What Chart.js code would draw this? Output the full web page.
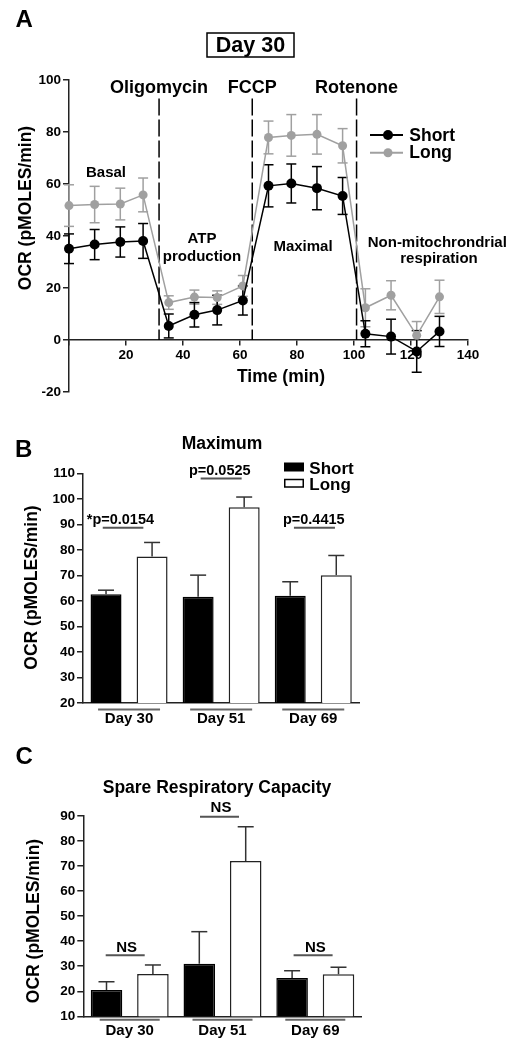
<!DOCTYPE html>
<html><head><meta charset="utf-8">
<script src="https://cdn.jsdelivr.net/npm/chart.js@4/dist/chart.umd.min.js"></script>
<style>
html,body{margin:0;padding:0;background:#fff;}
#wrap{position:relative;width:517px;height:1048px;overflow:hidden;background:#fff;}
canvas{position:absolute;left:0;}
</style></head><body>
<div id="wrap">
<canvas id="cA" width="517" height="410" style="top:0px"></canvas>
<canvas id="cB" width="517" height="330" style="top:410px"></canvas>
<canvas id="cC" width="517" height="308" style="top:740px"></canvas>
</div>
<script>
// ---------- Panel A data (Seahorse trace, Day 30) ----------
const timeMin  = [0, 9, 18, 26, 35, 44, 52, 61, 70, 78, 87, 96, 104, 113, 122, 130];
const shortOCR = [35.1, 36.7, 37.7, 38.1, 5.4, 9.7, 11.5, 15.2, 59.3, 60.2, 58.4, 55.4, 2.4, 1.3, -4.4, 3.3];
const shortSEM = [5.7, 5.8, 5.8, 6.7, 4.6, 4.7, 5.7, 5.6, 8.1, 7.5, 8.3, 7.1, 5.0, 6.7, 8.0, 5.8];
const longOCR  = [51.7, 52.1, 52.3, 55.8, 14.4, 16.5, 16.3, 20.8, 77.9, 78.7, 79.1, 74.7, 12.4, 17.2, 1.8, 16.6];
const longSEM  = [8.0, 7.0, 6.1, 6.5, 2.6, 2.7, 2.6, 4.0, 6.3, 8.0, 7.6, 6.6, 7.3, 5.6, 5.3, 6.4];
const injectionTimes = [31.6, 64.3, 100.9];
const injectionNames = ['Oligomycin', 'FCCP', 'Rotenone'];
const xTicksA = [0, 20, 40, 60, 80, 100, 120, 140];

// ---------- Panel B data (Maximum) ----------
const dayLabels   = ['Day 30', 'Day 51', 'Day 69'];
const maxShort    = [62.6, 61.6, 62.0];
const maxShortSEM = [1.6, 8.5, 5.5];
const maxLong     = [77.4, 96.7, 70.1];
const maxLongSEM  = [5.5, 4.0, 7.7];
const maxPValues  = ['*p=0.0154', 'p=0.0525', 'p=0.4415'];

// ---------- Panel C data (Spare Respiratory Capacity) ----------
const spareShort    = [20.5, 31.0, 25.3];
const spareShortSEM = [3.3, 12.8, 2.9];
const spareLong     = [26.9, 72.0, 26.8];
const spareLongSEM  = [3.6, 13.7, 2.8];
const spareSig      = ['NS', 'NS', 'NS'];

// ---------- helpers ----------
const FONT = '"Liberation Sans", Arial, Helvetica, sans-serif';
const GRAY = '#a0a0a0';
function txt(ctx, s, x, y, size, align, rot) {
  ctx.save();
  ctx.font = 'bold ' + size + 'px ' + FONT;
  ctx.fillStyle = '#000';
  ctx.textAlign = align || 'center';
  ctx.textBaseline = 'alphabetic';
  if (rot) { ctx.translate(x, y); ctx.rotate(rot); ctx.fillText(s, 0, 0); }
  else ctx.fillText(s, x, y);
  ctx.restore();
}
function seg(ctx, x1, y1, x2, y2, color, w, dash) {
  ctx.save();
  ctx.strokeStyle = color; ctx.lineWidth = w;
  ctx.setLineDash(dash || []);
  ctx.beginPath(); ctx.moveTo(x1, y1); ctx.lineTo(x2, y2); ctx.stroke();
  ctx.restore();
}
const tickFont = {family: FONT, size: 13.5, weight: 'bold'};
function yAxisOpts(min, max, step, width) {
  return {
    min: min, max: max,
    ticks: {stepSize: step, font: tickFont, color: '#000', padding: 2},
    grid: {display: true, drawOnChartArea: false, drawTicks: true, tickLength: 6, color: '#222', lineWidth: 1.5},
    border: {color: '#222', width: 1.5},
    afterFit: function (s) { s.width = width; }
  };
}

// ---------- Panel A ----------
const annotA = {
  id: 'annotA',
  beforeDatasetsDraw(chart) {
    const ctx = chart.ctx, xs = chart.scales.x, ys = chart.scales.y;
    injectionTimes.forEach(t => {
      const px = xs.getPixelForValue(t);
      seg(ctx, px, ys.getPixelForValue(92.9), px, ys.getPixelForValue(0), '#000', 1.5, [17, 4]);
    });
    const errs = [[longOCR, longSEM, GRAY], [shortOCR, shortSEM, '#000']];
    errs.forEach(([vals, sem, col]) => {
      vals.forEach((v, i) => {
        const px = xs.getPixelForValue(timeMin[i]);
        const hi = ys.getPixelForValue(v + sem[i]), lo = ys.getPixelForValue(v - sem[i]);
        seg(ctx, px, hi, px, lo, col, 1.5);
        seg(ctx, px - 5, hi, px + 5, hi, col, 1.5);
        seg(ctx, px - 5, lo, px + 5, lo, col, 1.5);
      });
    });
  },
  afterDraw(chart) {
    const ctx = chart.ctx, xs = chart.scales.x;
    txt(ctx, 'A', 15.5, 26.7, 24, 'left');
    txt(ctx, 'Day 30', 250.5, 52.3, 21.5);
    ctx.save(); ctx.strokeStyle = '#000'; ctx.lineWidth = 1.5; ctx.strokeRect(207, 33, 87, 24); ctx.restore();
    injectionTimes.forEach((t, i) => txt(ctx, injectionNames[i], xs.getPixelForValue(t), 93.3, 18));
    txt(ctx, 'Basal', 106, 176.7, 15);
    txt(ctx, 'ATP', 202, 243.3, 15);
    txt(ctx, 'production', 202, 260.5, 15);
    txt(ctx, 'Maximal', 303, 250.7, 15);
    txt(ctx, 'Non-mitochrondrial', 437.3, 246.7, 15);
    txt(ctx, 'respiration', 439, 263.3, 15);
    txt(ctx, 'Time (min)', 281, 382.3, 17.5);
    txt(ctx, 'OCR (pMOLES/min)', 30.7, 208, 17.5, 'center', -Math.PI / 2);
    // legend
    seg(ctx, 370, 135, 403, 135, '#000', 2);
    ctx.save(); ctx.fillStyle = '#000'; ctx.beginPath(); ctx.arc(388, 135, 5, 0, Math.PI * 2); ctx.fill(); ctx.restore();
    seg(ctx, 370, 152.7, 403, 152.7, GRAY, 2);
    ctx.save(); ctx.fillStyle = GRAY; ctx.beginPath(); ctx.arc(388, 152.7, 4.5, 0, Math.PI * 2); ctx.fill(); ctx.restore();
    txt(ctx, 'Short', 409.3, 140.7, 17.5, 'left');
    txt(ctx, 'Long', 409.3, 157.8, 17.5, 'left');
  }
};

new Chart(document.getElementById('cA'), {
  type: 'line',
  data: {
    datasets: [
      {label: 'Short', data: timeMin.map((t, i) => ({x: t, y: shortOCR[i]})),
       borderColor: '#000', backgroundColor: '#000', pointBackgroundColor: '#000', pointBorderColor: '#000',
       borderWidth: 1.5, pointRadius: 5, pointBorderWidth: 0, tension: 0, clip: false},
      {label: 'Long', data: timeMin.map((t, i) => ({x: t, y: longOCR[i]})),
       borderColor: GRAY, backgroundColor: GRAY, pointBackgroundColor: GRAY, pointBorderColor: GRAY,
       borderWidth: 1.5, pointRadius: 4.5, pointBorderWidth: 0, tension: 0, clip: false}
    ]
  },
  options: {
    responsive: false, animation: false, devicePixelRatio: 1,
    layout: {padding: {left: 0, top: 80, right: 49, bottom: 18}},
    plugins: {legend: {display: false}, tooltip: {enabled: false}},
    scales: {
      x: {type: 'linear', position: {y: 0}, min: 0, max: 140,
          afterBuildTicks: function (s) { s.ticks = xTicksA.map(v => ({value: v})); },
          ticks: {autoSkip: false, maxRotation: 0, font: tickFont, color: '#000', padding: 2,
                  callback: v => (v === 0 ? '' : String(v))},
          grid: {display: true, drawOnChartArea: false, drawTicks: true, tickLength: 5, color: '#222', lineWidth: 1.5},
          border: {color: '#222', width: 1.5},
          afterFit: function (s) { s.height = 0; }},
      y: yAxisOpts(-20, 100, 20, 69)
    }
  },
  plugins: [annotA]
});

// ---------- bar panels ----------
function barErrorPlugin(id, semSets, drawExtra) {
  return {
    id: id,
    afterDatasetsDraw(chart) {
      const ctx = chart.ctx, ys = chart.scales.y;
      chart.data.datasets.forEach((ds, di) => {
        chart.getDatasetMeta(di).data.forEach((bar, i) => {
          const top = ys.getPixelForValue(ds.data[i]);
          const up = ys.getPixelForValue(ds.data[i] + semSets[di][i]);
          seg(ctx, bar.x, top, bar.x, up, '#333', 1.5);
          seg(ctx, bar.x - 8, up, bar.x + 8, up, '#333', 1.5);
        });
      });
    },
    afterDraw(chart) { drawExtra(chart); }
  };
}
function barChart(el, shortVals, longVals, plugin, cfg) {
  return new Chart(el, {
    type: 'bar',
    data: {
      labels: dayLabels,
      datasets: [
        {label: 'Short', data: shortVals, backgroundColor: '#000', borderColor: '#000', borderWidth: 1.5,
         categoryPercentage: 1.0, barPercentage: cfg.barPct},
        {label: 'Long', data: longVals, backgroundColor: '#fff', borderColor: '#222', borderWidth: 1.5,
         categoryPercentage: 1.0, barPercentage: cfg.barPct}
      ]
    },
    options: {
      responsive: false, animation: false, devicePixelRatio: 1,
      layout: {padding: {left: 0, top: cfg.top, right: cfg.right, bottom: 0}},
      plugins: {legend: {display: false}, tooltip: {enabled: false}},
      scales: {
        x: {grid: {display: false, drawTicks: false}, border: {color: '#222', width: 1.5},
            ticks: {font: {family: FONT, size: 15, weight: 'bold'}, color: '#000', padding: cfg.xPad, maxRotation: 0},
            afterFit: function (s) { s.height = cfg.xHeight; }},
        y: yAxisOpts(cfg.min, cfg.max, 10, cfg.yWidth)
      }
    },
    plugins: [plugin]
  });
}

// Panel B
const pB = barErrorPlugin('errB', [maxShortSEM, maxLongSEM], function (chart) {
  const ctx = chart.ctx, xs = chart.scales.x, ys = chart.scales.y;
  txt(ctx, 'B', 15, 46.7, 24, 'left');
  txt(ctx, 'Maximum', 222, 39.3, 17.5);
  txt(ctx, 'OCR (pMOLES/min)', 37, 177.5, 17.5, 'center', -Math.PI / 2);
  // legend
  ctx.save(); ctx.fillStyle = '#000'; ctx.fillRect(284, 52.5, 20, 9);
  ctx.strokeStyle = '#000'; ctx.lineWidth = 1.5; ctx.strokeRect(284.75, 69.5, 18.5, 7.5); ctx.restore();
  txt(ctx, 'Short', 309.3, 63.5, 17, 'left');
  txt(ctx, 'Long', 309.3, 79.8, 17, 'left');
  // p-value annotations
  const spec = [
    {tx: -42.3, yT: 90.0, yL: 88.7, l1: -26.3, l2: 14.3},
    {tx: -32.2, yT: 109.4, yL: 108.0, l1: -20.5, l2: 20.5},
    {tx: -30.3, yT: 90.0, yL: 88.7, l1: -19.3, l2: 21.7}
  ];
  spec.forEach((s, i) => {
    const cx = xs.getPixelForValue(i);
    txt(ctx, maxPValues[i], cx + s.tx, ys.getPixelForValue(s.yT), 14.5, 'left');
    const ly = ys.getPixelForValue(s.yL);
    seg(ctx, cx + s.l1, ly, cx + s.l2, ly, '#555', 2);
  });
  // category underlines
  const base = ys.getPixelForValue(20) + 6.5;
  dayLabels.forEach((d, i) => {
    const cx = xs.getPixelForValue(i);
    seg(ctx, cx - 31, base, cx + 31, base, '#666', 2);
  });
});
barChart(document.getElementById('cB'), maxShort, maxLong, pB,
  {barPct: 0.673, top: 63.3, right: 157.7, xPad: 7.2, xHeight: 37, min: 20, max: 110, yWidth: 83});

// Panel C
const pC = barErrorPlugin('errC', [spareShortSEM, spareLongSEM], function (chart) {
  const ctx = chart.ctx, xs = chart.scales.x, ys = chart.scales.y;
  txt(ctx, 'C', 15.5, 24, 24, 'left');
  txt(ctx, 'Spare Respiratory Capacity', 217, 52.7, 17.5);
  txt(ctx, 'OCR (pMOLES/min)', 39, 181, 17.5, 'center', -Math.PI / 2);
  const spec = [
    {tx: -3, yT: 35.5, yL: 34.8, l1: -24, l2: 15},
    {tx: -1.5, yT: 91.4, yL: 90.1, l1: -22.5, l2: 16.5},
    {tx: 0, yT: 35.5, yL: 34.8, l1: -21.7, l2: 17.3}
  ];
  spec.forEach((s, i) => {
    const cx = xs.getPixelForValue(i);
    txt(ctx, spareSig[i], cx + s.tx, ys.getPixelForValue(s.yT), 15);
    const ly = ys.getPixelForValue(s.yL) + 1;
    seg(ctx, cx + s.l1, ly, cx + s.l2, ly, '#555', 2);
  });
  const base = ys.getPixelForValue(10) + 3.5;
  dayLabels.forEach((d, i) => {
    const cx = xs.getPixelForValue(i);
    seg(ctx, cx - 30, base, cx + 30, base, '#666', 2);
  });
});
barChart(document.getElementById('cC'), spareShort, spareLong, pC,
  {barPct: 0.68, top: 76, right: 155.3, xPad: 6, xHeight: 31.7, min: 10, max: 90, yWidth: 83.3});
</script>
</body></html>
